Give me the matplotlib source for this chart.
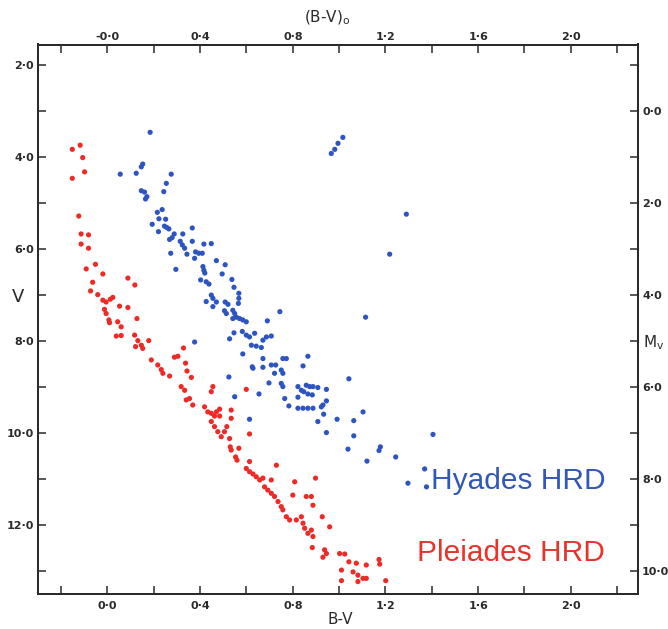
import numpy as np
import matplotlib
matplotlib.use("Agg")
import matplotlib.pyplot as plt
from matplotlib.ticker import FixedLocator

# Hyades (blue) colour-magnitude points: B-V, V
HYADES_BV = [0.184, 0.055, 0.124, 0.146, 0.152, 0.275, 0.254, 0.243, 0.146, 0.160,
             0.170, 0.164, 0.236, 0.215, 0.222, 0.251, 0.193, 0.246, 0.256, 0.265,
             0.366, 0.220, 0.288, 0.279, 0.268, 0.325, 0.314, 0.323, 0.333, 0.366,
             0.416, 0.448, 0.273, 0.343, 0.380, 0.394, 0.409, 0.376, 0.470, 0.508,
             0.295, 0.412, 0.416, 0.420, 0.495, 0.402, 0.426, 0.438, 0.537, 0.546,
             0.448, 0.455, 0.426, 0.470, 0.508, 0.520, 0.567, 0.567, 0.565, 0.455,
             0.505, 0.513, 0.541, 0.549, 0.556, 0.570, 0.584, 0.599, 0.541, 0.744,
             0.690, 0.546, 0.582, 0.599, 0.613, 0.635, 0.527, 0.621, 0.642, 0.664,
             0.671, 0.686, 0.707, 0.376, 1.218, 1.114, 0.584, 0.671, 0.757, 0.772,
             0.865, 0.625, 0.628, 0.671, 0.707, 0.726, 0.721, 0.750, 0.757, 0.844,
             1.042, 0.524, 0.697, 0.750, 0.757, 0.822, 0.837, 0.847, 0.858, 0.873,
             0.887, 0.908, 0.865, 0.884, 0.945, 0.549, 0.654, 0.765, 0.822, 0.945,
             0.783, 0.822, 0.844, 0.865, 0.887, 0.923, 0.930, 0.933, 1.103, 0.908,
             0.991, 1.063, 0.613, 0.945, 1.063, 1.038, 1.178, 1.172, 1.120, 1.244,
             0.966, 0.981, 0.995, 1.016, 1.405, 1.369, 1.297, 1.377, 1.290]
HYADES_V = [3.46, 4.37, 4.35, 4.21, 4.15, 4.37, 4.57, 4.75, 4.73, 4.76,
            4.86, 4.91, 5.14, 5.20, 5.34, 5.35, 5.46, 5.50, 5.53, 5.56,
            5.54, 5.62, 5.67, 5.75, 5.79, 5.67, 5.83, 5.91, 5.98, 5.83,
            5.89, 5.88, 6.09, 6.11, 6.06, 6.09, 6.09, 6.20, 6.25, 6.34,
            6.44, 6.38, 6.46, 6.52, 6.54, 6.67, 6.71, 6.76, 6.66, 6.83,
            7.00, 7.07, 7.14, 7.15, 7.15, 7.20, 6.96, 7.07, 7.18, 7.25,
            7.34, 7.40, 7.33, 7.40, 7.48, 7.51, 7.54, 7.58, 7.51, 7.36,
            7.56, 7.82, 7.79, 7.87, 7.91, 7.83, 7.95, 8.09, 8.11, 8.14,
            7.98, 7.91, 7.89, 8.02, 6.11, 7.48, 8.28, 8.38, 8.38, 8.38,
            8.33, 8.56, 8.59, 8.57, 8.52, 8.52, 8.70, 8.63, 8.70, 8.54,
            8.82, 8.78, 8.91, 8.92, 8.99, 8.99, 9.07, 9.10, 8.96, 8.99,
            8.99, 9.01, 9.15, 9.17, 9.05, 9.21, 9.15, 9.25, 9.22, 9.30,
            9.41, 9.46, 9.46, 9.46, 9.46, 9.43, 9.39, 9.59, 9.54, 9.75,
            9.70, 9.73, 9.70, 9.99, 10.06, 10.35, 10.30, 10.38, 10.61, 10.52,
            3.92, 3.83, 3.70, 3.57, 10.03, 10.78, 11.09, 11.17, 5.24]

# Pleiades (red) colour-magnitude points: B-V, V
PLEIADES_BV = [-0.152, -0.118, -0.107, -0.099, -0.152, -0.124, -0.114, -0.082, -0.114, -0.082,
               -0.052, -0.092, -0.020, -0.064, 0.088, 0.118, -0.073, -0.042, -0.020, -0.006,
               0.012, 0.023, -0.013, -0.006, 0.006, 0.009, 0.052, 0.088, 0.127, 0.044,
               0.059, 0.038, 0.059, 0.117, 0.131, 0.121, 0.178, 0.146, 0.152, 0.328,
               0.189, 0.217, 0.232, 0.239, 0.268, 0.304, 0.289, 0.337, 0.343, 0.362,
               0.318, 0.333, 0.354, 0.340, 0.368, 0.455, 0.448, 0.599, 0.419, 0.433,
               0.448, 0.470, 0.484, 0.462, 0.484, 0.534, 0.534, 0.448, 0.462, 0.476,
               0.491, 0.505, 0.515, 0.527, 0.613, 0.530, 0.534, 0.567, 0.553, 0.559,
               0.613, 0.729, 0.599, 0.613, 0.628, 0.642, 0.657, 0.671, 0.707, 0.808,
               0.898, 0.678, 0.692, 0.707, 0.721, 0.736, 0.750, 0.757, 0.800, 0.858,
               0.880, 0.887, 0.772, 0.786, 0.815, 0.837, 0.844, 0.851, 0.865, 0.880,
               0.887, 0.927, 0.959, 0.884, 0.937, 0.945, 0.930, 1.002, 1.024, 1.042,
               1.074, 1.117, 1.172, 1.175, 1.010, 1.060, 1.081, 1.103, 1.117, 1.010,
               1.081, 1.201]
PLEIADES_V = [3.83, 3.74, 4.01, 4.32, 4.46, 5.28, 5.67, 5.69, 5.89, 5.98,
              6.33, 6.43, 6.54, 6.72, 6.63, 6.78, 6.91, 6.99, 7.11, 7.15,
              7.09, 7.05, 7.31, 7.40, 7.54, 7.60, 7.24, 7.27, 7.51, 7.58,
              7.69, 7.89, 7.88, 7.87, 7.99, 8.12, 7.99, 8.09, 8.16, 8.15,
              8.41, 8.52, 8.62, 8.70, 8.76, 8.33, 8.35, 8.48, 8.65, 8.79,
              8.99, 9.07, 9.25, 9.28, 9.39, 8.99, 9.10, 9.05, 9.43, 9.54,
              9.57, 9.54, 9.48, 9.63, 9.63, 9.50, 9.68, 9.75, 9.86, 9.97,
              10.08, 9.97, 9.86, 10.12, 10.02, 10.30, 10.37, 10.33, 10.52, 10.59,
              10.62, 10.70, 10.77, 10.84, 10.89, 10.95, 11.02, 10.98, 11.02, 11.06,
              10.98, 11.17, 11.24, 11.31, 11.38, 11.49, 11.60, 11.67, 11.35, 11.38,
              11.38, 11.57, 11.82, 11.89, 11.89, 11.82, 11.96, 12.07, 12.18, 12.11,
              12.25, 11.82, 12.04, 12.49, 12.54, 12.62, 12.70, 12.62, 12.63, 12.80,
              12.83, 12.87, 12.75, 12.85, 12.98, 13.02, 13.09, 13.16, 13.16, 13.21,
              13.23, 13.21]

BV_TICKS = [-0.2, 0.0, 0.2, 0.4, 0.6, 0.8, 1.0, 1.2, 1.4, 1.6, 1.8, 2.0, 2.2]
BV_LABELS = ["", "0·0", "", "0·4", "", "0·8", "", "1·2", "", "1·6", "", "2·0", ""]
BV0_LABELS = ["", "-0·0", "", "0·4", "", "0·8", "", "1·2", "", "1·6", "", "2·0", ""]
V_TICKS = [2, 3, 4, 5, 6, 7, 8, 9, 10, 11, 12, 13]
V_LABELS = ["2·0", "", "4·0", "", "6·0", "", "8·0", "", "10·0", "", "12·0", ""]
MV_TICKS = [-1, 0, 1, 2, 3, 4, 5, 6, 7, 8, 9, 10]
MV_LABELS = ["", "0·0", "", "2·0", "", "4·0", "", "6·0", "", "8·0", "", "10·0"]
DIST_MOD = 3.0

BLUE = "#2d55c2"
RED = "#ee2a27"
INK = "#2a2a2a"

fig = plt.figure(figsize=(6.68, 6.29), dpi=100)
ax = fig.add_axes([38 / 668, 1 - 594 / 629, 600 / 668, 549.5 / 629])

ax.scatter(HYADES_BV, HYADES_V, s=14, color=BLUE, edgecolor="none", zorder=3)
ax.scatter(PLEIADES_BV, PLEIADES_V, s=14, color=RED, edgecolor="none", zorder=3)

ax.set_xlim(-0.30, 2.29)
ax.set_ylim(13.5, 1.55)

tick_font = dict(fontsize=8, color=INK, fontweight="bold")

ax.xaxis.set_major_locator(FixedLocator(BV_TICKS))
ax.set_xticklabels(BV_LABELS, **tick_font)
ax.yaxis.set_major_locator(FixedLocator(V_TICKS))
ax.set_yticklabels(V_LABELS, **tick_font)
ax.tick_params(axis="x", direction="in", length=6, width=1.1, color=INK, pad=5)
ax.tick_params(axis="y", direction="in", length=6, width=1.1, color=INK, pad=3)

top = ax.twiny()
top.set_xlim(ax.get_xlim())
top.xaxis.set_major_locator(FixedLocator(BV_TICKS))
top.set_xticklabels(BV0_LABELS, **tick_font)
top.tick_params(axis="x", direction="in", length=6, width=1.1, color=INK, pad=2)

right = ax.twinx()
right.set_ylim(13.5 - DIST_MOD, 1.55 - DIST_MOD)
right.yaxis.set_major_locator(FixedLocator(MV_TICKS))
right.set_yticklabels(MV_LABELS, **tick_font)
right.tick_params(axis="y", direction="in", length=6, width=1.1, color=INK, pad=3)

for a in (ax, top, right):
    for sp in a.spines.values():
        sp.set_linewidth(1.4)
        sp.set_color(INK)

fig.text(327 / 668, 1 - 18 / 629, "(B-V)$_\\mathrm{o}$", ha="center", va="center",
         fontsize=11, color=INK)
fig.text(340 / 668, 1 - 620 / 629, "B-V", ha="center", va="center",
         fontsize=11, color=INK)
fig.text(18 / 668, 1 - 297 / 629, "V", ha="center", va="center",
         fontsize=13, color=INK)
fig.text(643 / 668, 1 - 343 / 629, "M$_\\mathrm{v}$", ha="left", va="center",
         fontsize=11, color=INK)

ax.text(0.655, 0.205, "Hyades HRD", transform=ax.transAxes, fontsize=21.5,
        family="Liberation Sans", color="#3157b8", ha="left", va="center")
ax.text(0.632, 0.075, "Pleiades HRD", transform=ax.transAxes, fontsize=21.5,
        family="Liberation Sans", color="#e8332b", ha="left", va="center")

fig.savefig("out.png", dpi=100)
